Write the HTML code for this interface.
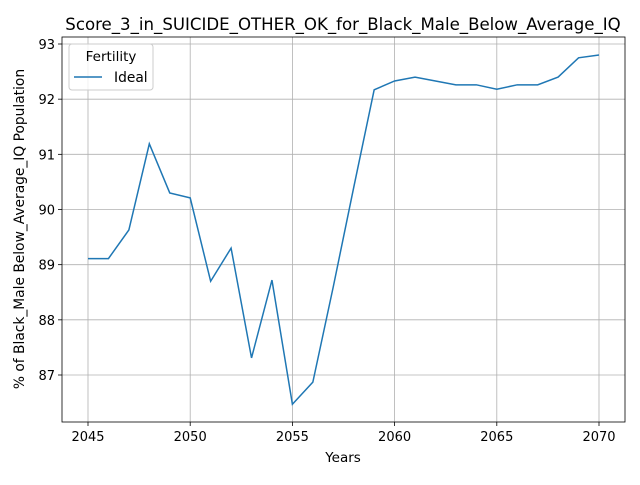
<!DOCTYPE html>
<html><head><meta charset="utf-8"><style>
body{margin:0;background:#fff;}
svg text{font-family:"DejaVu Sans","Liberation Sans",sans-serif;fill:#000;}
</style></head><body>
<svg id="chart" width="640" height="480" xmlns="http://www.w3.org/2000/svg">
<rect width="640" height="480" fill="#fff"/>
<g id="grid"></g>
<g id="ticks"></g>
<path id="line" fill="none" stroke="#1f77b4" stroke-width="1.5"/>
<rect x="62" y="37" width="563" height="385" fill="none" stroke="#000" stroke-width="0.8"/>
<text x="343" y="30" font-size="16.6" text-anchor="middle">Score_3_in_SUICIDE_OTHER_OK_for_Black_Male_Below_Average_IQ</text>
<text x="343" y="462" font-size="13.5" text-anchor="middle">Years</text>
<text transform="translate(24,229) rotate(-90)" font-size="13.8" text-anchor="middle">% of Black_Male Below_Average_IQ Population</text>
<g>
<rect x="69" y="44" width="84" height="46" rx="3" fill="#fff" fill-opacity="0.8" stroke="#ccc"/>
<text x="111" y="61" font-size="13.5" text-anchor="middle">Fertility</text>
<line x1="74" y1="77" x2="102" y2="77" stroke="#1f77b4" stroke-width="1.5"/>
<text x="114" y="82" font-size="13.8">Ideal</text>
</g>
</svg>
<script>
const years=[2045,2046,2047,2048,2049,2050,2051,2052,2053,2054,2055,2056,2057,2058,2059,2060,2061,2062,2063,2064,2065,2066,2067,2068,2069,2070];
const values=[89.11,89.11,89.63,91.19,90.30,90.21,88.70,89.30,87.31,88.72,86.47,86.87,88.6,90.4,92.17,92.33,92.40,92.33,92.26,92.26,92.18,92.26,92.26,92.40,92.75,92.80];
const xTicks=[2045,2050,2055,2060,2065,2070];
const yTicks=[87,88,89,90,91,92,93];
function xs(v){return 88+(v-2045)*(599-88)/25;}
function ys(v){return 375-(v-87)*(375-44)/6;}
const ns="http://www.w3.org/2000/svg";
const grid=document.getElementById('grid'),ticks=document.getElementById('ticks');
function mk(tag,attrs,parent){const e=document.createElementNS(ns,tag);for(const k in attrs)e.setAttribute(k,attrs[k]);parent.appendChild(e);return e;}
xTicks.forEach(t=>{const x=xs(t);
const g=mk('line',{x1:x,x2:x,y1:37,y2:422,stroke:'#b0b0b0','stroke-width':0.8},grid);


mk('line',{x1:x,x2:x,y1:422,y2:426,stroke:'#000','stroke-width':0.8},ticks);
const tx=mk('text',{x:x,y:441,'font-size':13,'text-anchor':'middle'},ticks);tx.textContent=t;

});
yTicks.forEach(t=>{const y=ys(t);
const g=mk('line',{x1:62,x2:625,y1:y,y2:y,stroke:'#b0b0b0','stroke-width':0.8},grid);


mk('line',{x1:58,x2:62,y1:y,y2:y,stroke:'#000','stroke-width':0.8},ticks);
const tx=mk('text',{x:55,y:y+5,'font-size':13,'text-anchor':'end'},ticks);tx.textContent=t;

});
document.getElementById('line').setAttribute('d',years.map((y,i)=>(i?'L':'M')+xs(y)+','+ys(values[i])).join(''));
</script>
</body></html>
